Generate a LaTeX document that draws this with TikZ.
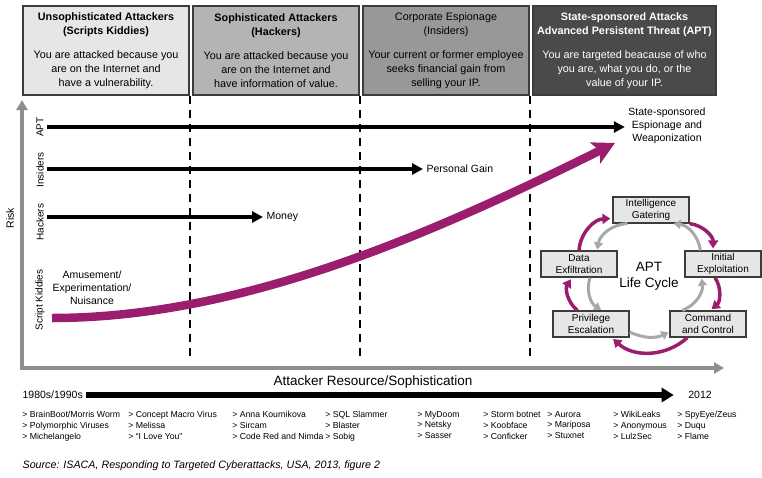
\documentclass[tikz,border=0pt]{standalone}
\usepackage{fontspec}
\setmainfont{Liberation Sans}
\usetikzlibrary{arrows.meta}

\definecolor{boxlight}{HTML}{E6E6E6}
\definecolor{boxmid}{HTML}{B4B4B4}
\definecolor{boxdark}{HTML}{989898}
\definecolor{boxblack}{HTML}{4A4A4A}
\definecolor{frame}{HTML}{3C3C3C}
\definecolor{axisgray}{HTML}{8E8E8E}
\definecolor{cyclegray}{HTML}{A8A8A8}
\definecolor{aptpurple}{RGB}{155,30,110}

\begin{document}
\begin{tikzpicture}[x=1pt, y=1pt, semithick,
    header/.style={draw=frame, line width=2pt, minimum height=89pt, inner sep=0pt, align=center, font=\fontsize{10.8}{14}\selectfont},
    divider/.style={line width=2.5pt, dash pattern=on 8pt off 6pt},
    axisline/.style={draw=axisgray, line width=4pt, {Triangle[length=10pt,width=11pt]}-{Triangle[length=10pt,width=11pt]}},
    rowlabel/.style={rotate=90, font=\fontsize{10}{12}\selectfont},
    goal/.style={font=\fontsize{10.5}{13}\selectfont, align=center},
    motive/.style={line width=3.5pt, -{Triangle[length=11pt,width=11pt]}},
    phase/.style={draw=frame, line width=1.2pt, fill=boxlight, minimum width=76pt, minimum height=26pt, inner sep=1pt, align=center, font=\fontsize{10}{12.5}\selectfont},
    clockwise/.style={draw=aptpurple, line width=3.5pt, -{Triangle[length=8pt,width=10pt]}, bend left=42, shorten >=2pt},
    backwards/.style={draw=cyclegray, line width=3pt, -{Triangle[length=7pt,width=9pt]}, bend right=38, shorten >=1pt},
    attacks/.style={anchor=north west, inner sep=0pt, align=left, font=\fontsize{8.7}{10.7}\selectfont}]

        \useasboundingbox (0,0) rectangle (762,-477);

        % Attacker types
        \node[header, fill=boxlight, minimum width=166pt] (scripts) at (106,-50.5)
            {\textbf{Unsophisticated Attackers}\\\textbf{(Scripts Kiddies)}\\[10pt]You are attacked because you\\are on the Internet and\\have a vulnerability.};
        \node[header, fill=boxmid, minimum width=166pt] (hackers) at (276,-50.5)
            {\textbf{Sophisticated Attackers}\\\textbf{(Hackers)}\\[10pt]You are attacked because you\\are on the Internet and\\have information of value.};
        \node[header, fill=boxdark, minimum width=166pt] (insiders) at (446,-50.5)
            {Corporate Espionage\\(Insiders)\\[10pt]Your current or former employee\\seeks financial gain from\\selling your IP.};
        \node[header, fill=boxblack, text=white, minimum width=183pt] (statesp) at (624.5,-50.5)
            {\textbf{State-sponsored Attacks}\\\textbf{Advanced Persistent Threat (APT)}\\[10pt]You are targeted beacause of who\\you are, what you do, or the\\value of your IP.};

        % Axes
        \coordinate (origin) at (22,-368);
        \coordinate (risktop) at (22,-100);
        \coordinate (resend) at (724,-368);
        \draw[divider] (scripts.south east) -- (scripts.south east |- 0,-360);
        \draw[divider] (hackers.south east) -- (hackers.south east |- 0,-360);
        \draw[divider] (insiders.south east) -- (insiders.south east |- 0,-360);
        \draw[axisline] (risktop) -- (origin) -- (resend);
        \node[rotate=90, font=\fontsize{10.5}{12}\selectfont] (risk) at (10,-218) {Risk};
        \node[font=\fontsize{13.5}{16}\selectfont] (resource) at (373,-382) {Attacker Resource/Sophistication};

        % Motives
        \node[rowlabel] (aptrow) at (40,-127) {APT};
        \node[rowlabel] (insrow) at (40,-170) {Insiders};
        \node[rowlabel] (hackrow) at (40,-222) {Hackers};
        \node[rowlabel] (kidrow) at (40,-300) {Script Kiddies};
        \node[goal] (espionage) at (667,-126) {State-sponsored\\Espionage and\\Weaponization};
        \node[goal, anchor=west] (gain) at (423,-169) {Personal Gain};
        \node[goal, anchor=west] (money) at (263,-217) {Money};
        \node[goal] (fun) at (92,-288) {Amusement/\\Experimentation/\\Nuisance};
        \draw[motive] (aptrow.south) -- (espionage.west |- aptrow.south);
        \draw[motive] (insrow.south |- gain.west) -- (gain.west);
        \draw[motive] (hackrow.south |- money.west) -- (money.west);
        \coordinate (kidstart) at (52,-318);
        \coordinate (apttip) at (615,-143);
        \draw[aptpurple, line width=8.5pt, -{Stealth[length=22pt,width=23pt,inset=5pt]}]
            (kidstart) .. controls (240,-318) and (430,-235) .. (apttip);

        % APT life cycle
        \node[phase] (intel) at (651,-210) {Intelligence\\Gatering};
        \node[phase] (data) at (579,-264) {Data\\Exfiltration};
        \node[phase] (init) at (723,-264) {Initial\\Exploitation};
        \node[phase] (priv) at (591,-324) {Privilege\\Escalation};
        \node[phase] (cmd) at (708,-324) {Command\\and Control};
        \node[font=\fontsize{13.5}{16}\selectfont, align=center] (cycle) at (649,-276) {APT\\Life Cycle};
        \draw[clockwise] (intel.south east) to ([xshift=-10pt]init.north);
        \draw[clockwise] ([xshift=-8pt]init.south) to ([xshift=2pt]cmd.north);
        \draw[clockwise] ([xshift=18pt]cmd.south west) to ([xshift=-18pt]priv.south east);
        \draw[clockwise] ([xshift=25pt]priv.north west) to ([xshift=-7pt]data.south);
        \draw[clockwise] (data.north) to ([yshift=5pt]intel.south west);
        \draw[backwards] ([xshift=15pt]intel.south west) to ([xshift=18pt]data.north);
        \draw[backwards] ([xshift=11pt]data.south) to ([xshift=11pt]priv.north);
        \draw[backwards, bend right=25] ([yshift=-8pt]priv.east) to ([yshift=-8pt]cmd.west);
        \draw[backwards] ([xshift=13pt]cmd.north west) to ([xshift=17pt]init.south west);
        \draw[backwards] ([xshift=16pt]init.north west) to ([xshift=-17pt]intel.south east);

        % Timeline
        \node[goal, anchor=west] (early) at (19,-395) {1980s/1990s};
        \node[goal] (late) at (700,-395) {2012};
        \draw[line width=6pt, -{Triangle[length=12pt,width=14pt]}, shorten >=11pt] (early.east) -- (late.west);
        \foreach \col/\one/\two/\three in {22/{BrainBoot/Morris Worm}/Polymorphic Viruses/Michelangelo,
                128/Concept Macro Virus/Melissa/“I Love You”,
                232/Anna Kournikova/Sircam/Code Red and Nimda,
                325/SQL Slammer/Blaster/Sobig,
                417/MyDoom/Netsky/Sasser,
                483/Storm botnet/Koobface/Conficker,
                547/Aurora/Mariposa/Stuxnet,
                613/WikiLeaks/Anonymous/LulzSec,
                677/{SpyEye/Zeus}/Duqu/Flame}
            \node[attacks] (list\col) at (\col,-411) {> \one\\> \two\\> \three};

        \node[anchor=west, font=\fontsize{10.7}{12}\selectfont\itshape] (source) at (19,-466)
            {Source: ISACA, Responding to Targeted Cyberattacks, USA, 2013, figure 2};

    \end{tikzpicture}
\end{document}
